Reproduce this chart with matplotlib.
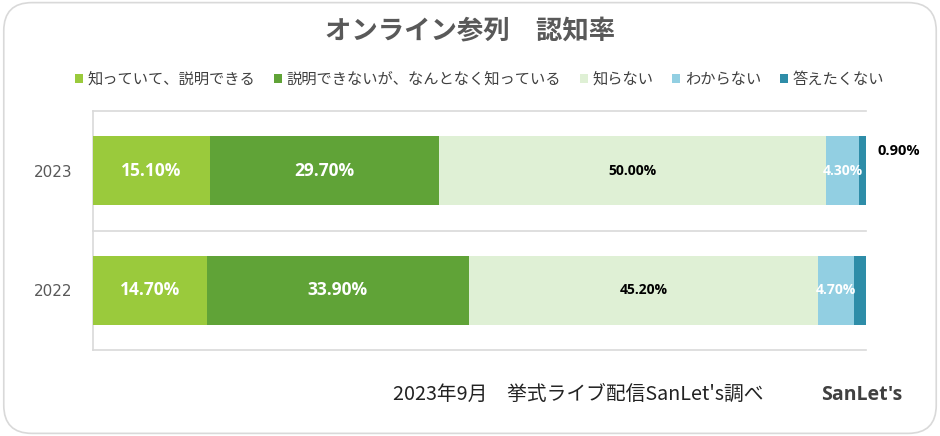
import matplotlib
matplotlib.use("Agg")
import matplotlib.pyplot as plt
from matplotlib.patches import FancyBboxPatch
import numpy as np

plt.rcParams['font.family'] = ['Noto Sans CJK JP', 'DejaVu Sans']

years = ["2022", "2023"]
series_names = ["知っていて、説明できる", "説明できないが、なんとなく知っている", "知らない", "わからない", "答えたくない"]
vals_2022 = [14.7, 33.9, 45.2, 4.7, 1.6]
vals_2023 = [15.1, 29.7, 50.0, 4.3, 0.9]
colors = ["#9ACA3C", "#60A337", "#DFF0D5", "#92CFE2", "#2E8DA8"]
label_colors = ["white", "white", "black", "white", "black"]
title = "オンライン参列　認知率"
footer = "2023年9月　挙式ライブ配信SanLet's調べ"

data = np.array([vals_2022, vals_2023])

fig = plt.figure(figsize=(9.4, 4.36), dpi=100)
fig.patches.append(FancyBboxPatch((0.004, 0.006), 0.992, 0.988,
                                  boxstyle="round,pad=0,rounding_size=0.03",
                                  transform=fig.transFigure, fill=False,
                                  edgecolor="#D9D9D9", linewidth=1.2,
                                  mutation_aspect=940/436))

ax = fig.add_axes([0.0989, 0.1972, 0.8223, 0.5482])
y = np.arange(len(years))
left = np.zeros(len(years))
for i, name in enumerate(series_names):
    ax.barh(y, data[:, i], left=left, height=0.575, color=colors[i], label=name, zorder=3)
    for j in range(len(years)):
        v = data[j, i]
        xc = left[j] + v / 2
        txt = f"{v:.2f}%"
        if i == 4:
            ax.annotate(txt, xy=(left[j] + v, y[j]), xytext=(8 if j == 1 else 0, 14 if j == 1 else 15),
                        textcoords="offset points", ha="left", va="center",
                        fontsize=10.5, fontweight="bold", color="black", zorder=5,
                        family=['Open Sans', 'DejaVu Sans'])
        else:
            fs = 12.5 if i < 2 else 10
            ax.text(xc, y[j], txt, ha="center", va="center", fontsize=fs,
                    fontweight="bold", color=label_colors[i], zorder=5,
                    family=['Open Sans', 'DejaVu Sans'])
    left += data[:, i]

ax.set_xlim(0, 100)
ax.set_ylim(-0.5, 1.5)
for g in (-0.5, 0.5, 1.5):
    ax.plot([0, 100], [g, g], color="#D9D9D9", linewidth=1.2, zorder=2, clip_on=False)
for s in ["top", "right", "bottom"]:
    ax.spines[s].set_visible(False)
ax.spines["left"].set_color("#D9D9D9")
ax.spines["left"].set_linewidth(1.2)
ax.set_xticks([])
ax.set_yticks(y)
ax.set_yticklabels(years, fontsize=11, color="#595959", family=['DejaVu Sans'])
ax.tick_params(axis="y", length=0, pad=15)

fig.text(0.5, 0.93, title, ha="center", va="center", fontsize=19,
         fontweight="bold", color="#595959")

handles, labels = ax.get_legend_handles_labels()
fig.legend(handles, labels, loc="center", bbox_to_anchor=(0.51, 0.818), ncol=5,
           frameon=False, fontsize=11, handlelength=0.55, handleheight=0.55,
           handletextpad=0.3, columnspacing=1.2, labelcolor="#404040")

fig.text(0.418, 0.094, footer, ha="left", va="center", fontsize=14.2, color="#222222")
fig.text(0.874, 0.094, "SanLet's", ha="left", va="center", fontsize=14,
         fontweight="bold", color="#404040", family=['Open Sans', 'DejaVu Sans'])

fig.savefig("out.png", dpi=100)
